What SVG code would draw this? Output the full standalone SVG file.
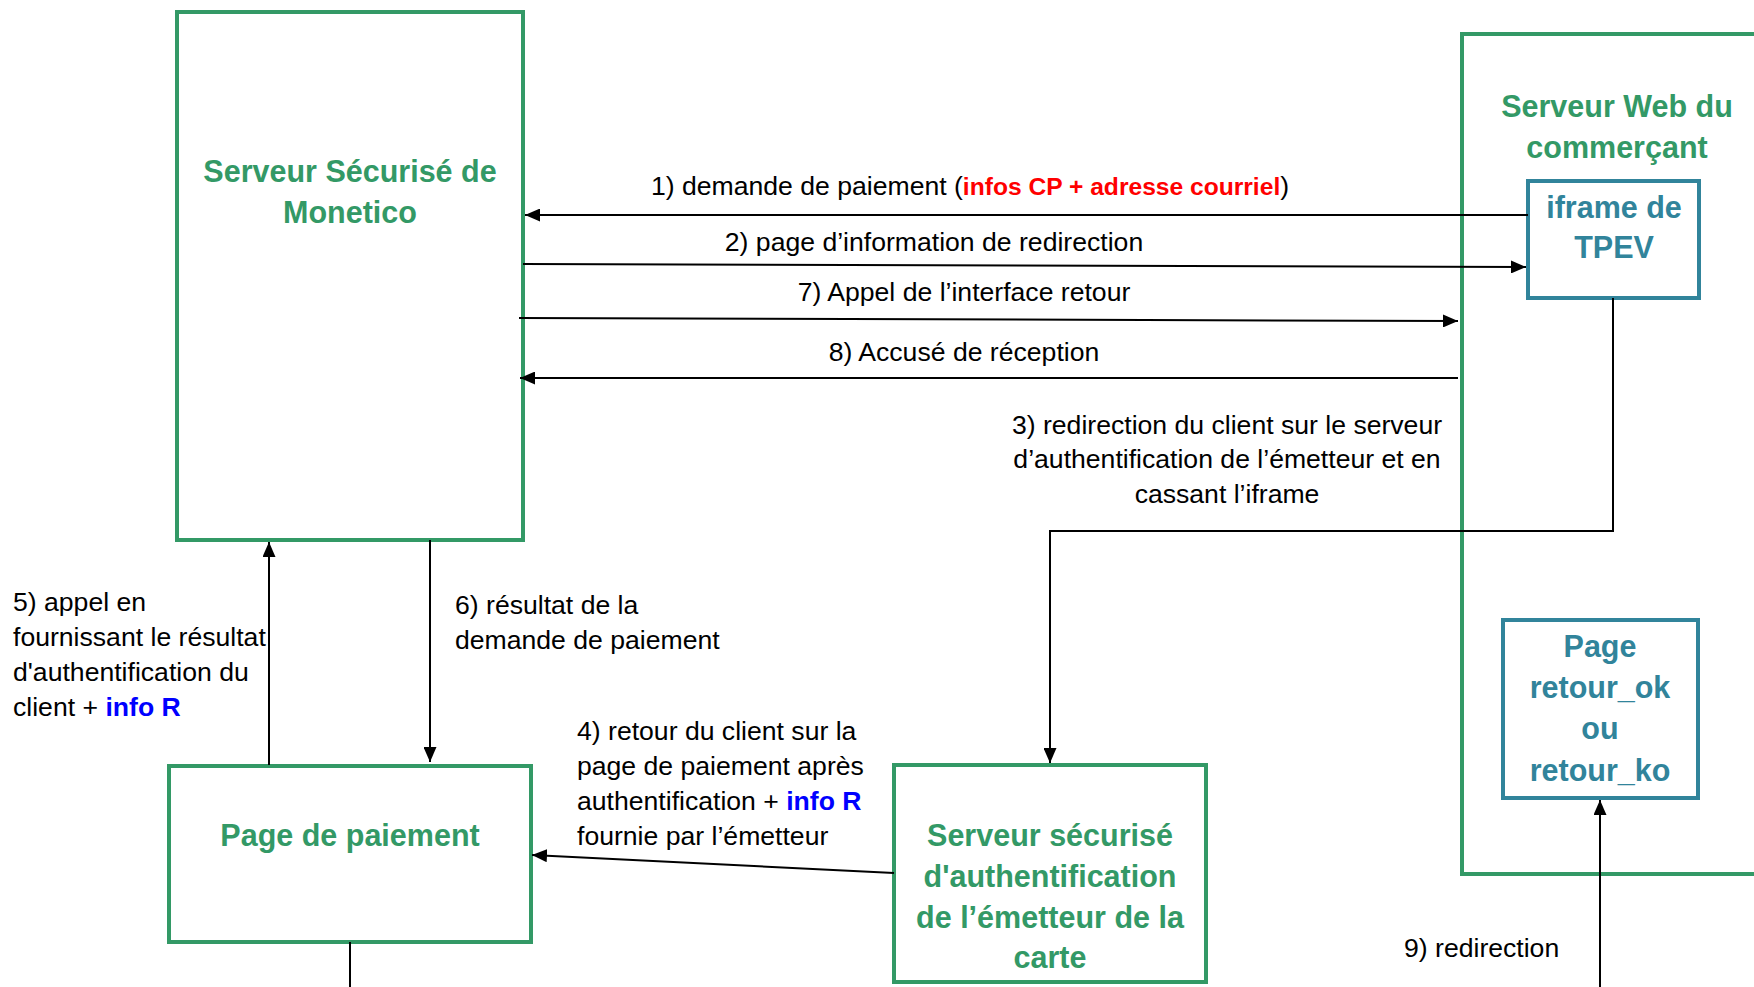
<svg xmlns="http://www.w3.org/2000/svg" width="1754" height="987" viewBox="0 0 1754 987">
<style>
.gbox{fill:none;stroke:#339966;stroke-width:4}
.tbox{fill:none;stroke:#31849B;stroke-width:4}
.gt{font-family:"Liberation Sans",Arial,sans-serif;font-weight:bold;font-size:30.5px;fill:#339966;text-anchor:middle}
.tt{font-family:"Liberation Sans",Arial,sans-serif;font-weight:bold;font-size:30.5px;fill:#31849B;text-anchor:middle}
.lbl{font-family:"Liberation Sans",Arial,sans-serif;font-size:26.6px;fill:#000}
.red{fill:#FF0000;font-weight:bold;font-size:24.6px}
.blue{fill:#0000FF;font-weight:bold}
.c{text-anchor:middle}
.conn{fill:none;stroke:#000;stroke-width:2}
</style>
<defs>
<marker id="ah" viewBox="0 0 15 13" refX="15" refY="6.5" markerWidth="15" markerHeight="13" markerUnits="userSpaceOnUse" orient="auto">
<path d="M0,0 L15,6.5 L0,13 z" fill="#000"/>
</marker>
</defs>
<rect width="1754" height="987" fill="#fff"/>

<g id="monetico">
<rect class="gbox" x="177" y="12" width="346" height="528"/>
<text class="gt" x="350" y="182">Serveur Sécurisé de</text>
<text class="gt" x="350" y="223">Monetico</text>
</g>

<g id="web-commercant">
<rect class="gbox" x="1462" y="34" width="320" height="840"/>
<text class="gt" x="1617" y="117">Serveur Web du</text>
<text class="gt" x="1617" y="158">commerçant</text>
</g>

<g id="iframe">
<rect class="tbox" x="1528" y="181" width="171" height="117"/>
<text class="tt" x="1614" y="218">iframe de</text>
<text class="tt" x="1614" y="258">TPEV</text>
</g>

<g id="page-retour">
<rect class="tbox" x="1503" y="620" width="195" height="178"/>
<text class="tt" x="1600" y="657">Page</text>
<text class="tt" x="1600" y="698">retour_ok</text>
<text class="tt" x="1600" y="739">ou</text>
<text class="tt" x="1600" y="781">retour_ko</text>
</g>

<g id="page-paiement">
<rect class="gbox" x="169" y="766" width="362" height="176"/>
<text class="gt" x="350" y="846">Page de paiement</text>
</g>

<g id="serveur-auth">
<rect class="gbox" x="894" y="765" width="312" height="217"/>
<text class="gt" x="1050" y="846">Serveur sécurisé</text>
<text class="gt" x="1050" y="887">d'authentification</text>
<text class="gt" x="1050" y="928">de l’émetteur de la</text>
<text class="gt" x="1050" y="968">carte</text>
</g>

<g id="connectors">
<path class="conn" d="M1528,215 L525,215" marker-end="url(#ah)"/>
<path class="conn" d="M523,264 L1526,267" marker-end="url(#ah)"/>
<path class="conn" d="M519,318 L1458,321" marker-end="url(#ah)"/>
<path class="conn" d="M1458,378 L520,378" marker-end="url(#ah)"/>
<path class="conn" d="M1613,298 V531 H1050 V763" marker-end="url(#ah)"/>
<path class="conn" d="M894,873 L532,855" marker-end="url(#ah)"/>
<path class="conn" d="M269,765 V542" marker-end="url(#ah)"/>
<path class="conn" d="M430,540 V762" marker-end="url(#ah)"/>
<path class="conn" d="M350,942 V987"/>
<path class="conn" d="M1600,987 V800" marker-end="url(#ah)"/>
</g>

<g id="labels">
<text class="lbl c" x="970" y="195">1) demande de paiement (<tspan class="red">infos CP + adresse courriel</tspan>)</text>
<text class="lbl c" x="934" y="251">2) page d’information de redirection</text>
<text class="lbl c" x="964" y="301">7) Appel de l’interface retour</text>
<text class="lbl c" x="964" y="361">8) Accusé de réception</text>
<text class="lbl c" x="1227" y="434">3) redirection du client sur le serveur</text>
<text class="lbl c" x="1227" y="468">d’authentification de l’émetteur et en</text>
<text class="lbl c" x="1227" y="503">cassant l’iframe</text>
<text class="lbl" x="13" y="611">5) appel en</text>
<text class="lbl" x="13" y="646">fournissant le résultat</text>
<text class="lbl" x="13" y="681">d'authentification du</text>
<text class="lbl" x="13" y="716">client + <tspan class="blue">info R</tspan></text>
<text class="lbl" x="455" y="614">6) résultat de la</text>
<text class="lbl" x="455" y="649">demande de paiement</text>
<text class="lbl" x="577" y="740">4) retour du client sur la</text>
<text class="lbl" x="577" y="775">page de paiement après</text>
<text class="lbl" x="577" y="810">authentification + <tspan class="blue">info R</tspan></text>
<text class="lbl" x="577" y="845">fournie par l’émetteur</text>
<text class="lbl" x="1404" y="957">9) redirection</text>
</g>
</svg>
